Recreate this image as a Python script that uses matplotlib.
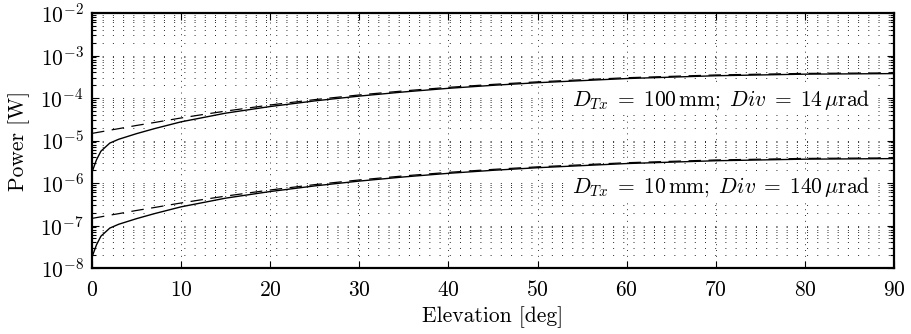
import matplotlib
matplotlib.use("Agg")
import matplotlib.pyplot as plt
from matplotlib.ticker import LogLocator, NullFormatter

plt.rcParams['font.family'] = ['cmr10', 'DejaVu Serif']
plt.rcParams['mathtext.fontset'] = 'cm'
plt.rcParams['axes.formatter.use_mathtext'] = True

# Elevation angles [deg]
elev_solid = [0, 0.5, 1, 2, 3, 5, 7, 10, 15, 20, 25, 30, 35, 40, 45, 50, 60, 70, 80, 90]
elev_dashed = [0, 1, 2, 3, 5, 7, 10, 12, 15, 20, 25, 30, 35, 40, 45, 50, 60, 70, 80, 90]

# D_Tx = 100 mm; Div = 14 urad
p100_solid = [1.8e-6, 3.5e-6, 5.6e-6, 8.7e-6, 1.07e-5, 1.45e-5, 1.9e-5, 2.75e-5, 4.4e-5,
              6.3e-5, 8.55e-5, 1.11e-4, 1.39e-4, 1.69e-4, 1.99e-4, 2.29e-4, 2.87e-4,
              3.34e-4, 3.64e-4, 3.75e-4]
p100_dashed = [1.47e-5, 1.6e-5, 1.75e-5, 1.9e-5, 2.26e-5, 2.65e-5, 3.39e-5, 3.95e-5, 4.92e-5,
               6.85e-5, 9.16e-5, 1.18e-4, 1.47e-4, 1.78e-4, 2.09e-4, 2.40e-4, 3.0e-4,
               3.48e-4, 3.79e-4, 3.9e-4]

# D_Tx = 10 mm; Div = 140 urad
p10_solid = [1.8e-8, 3.5e-8, 5.6e-8, 8.7e-8, 1.07e-7, 1.45e-7, 1.9e-7, 2.75e-7, 4.4e-7,
             6.3e-7, 8.55e-7, 1.11e-6, 1.39e-6, 1.69e-6, 1.99e-6, 2.29e-6, 2.87e-6,
             3.34e-6, 3.64e-6, 3.75e-6]
p10_dashed = [1.47e-7, 1.6e-7, 1.75e-7, 1.9e-7, 2.26e-7, 2.65e-7, 3.39e-7, 3.95e-7, 4.92e-7,
              6.85e-7, 9.16e-7, 1.18e-6, 1.47e-6, 1.78e-6, 2.09e-6, 2.40e-6, 3.0e-6,
              3.48e-6, 3.79e-6, 3.9e-6]

label_100 = r'$D_{Tx}\;=\;100\,\mathrm{mm};\; Div\;=\;14\,\mu\mathrm{rad}$'
label_10 = r'$D_{Tx}\;=\;10\,\mathrm{mm};\; Div\;=\;140\,\mu\mathrm{rad}$'
x_ticks = [0, 10, 20, 30, 40, 50, 60, 70, 80, 90]

fig = plt.figure(figsize=(9.12, 3.34), dpi=100)
ax = fig.add_axes([92/912, 1-268/334, (894-92)/912, (268-13)/334])

ax.set_yscale('log')
ax.set_xlim(0, 90)
ax.set_ylim(1e-8, 1e-2)
ax.set_xticks(x_ticks)
ax.yaxis.set_major_locator(LogLocator(base=10, numticks=20))
ax.yaxis.set_minor_locator(LogLocator(base=10, subs=range(2, 10), numticks=100))
ax.yaxis.set_minor_formatter(NullFormatter())

# grid
ax.grid(True, which='major', axis='x', color='0.2', linewidth=0.7, linestyle=(0, (1, 5)))
ax.grid(True, which='both', axis='y', color='0.15', linewidth=0.7, linestyle=(0, (1, 9.5)))

for s in ax.spines.values():
    s.set_linewidth(1.6)
ax.tick_params(which='both', direction='in', top=True, right=True, width=0.8)
ax.tick_params(which='major', length=5, labelsize=15.5, pad=6)
ax.tick_params(axis='x', which='major', pad=9)
ax.tick_params(which='minor', length=3)
ax.tick_params(axis='x', which='minor', top=False, bottom=False)

ax.plot(elev_dashed, p100_dashed, color='black', linewidth=0.9, linestyle=(0, (10, 6)))
ax.plot(elev_solid, p100_solid, color='black', linewidth=1.0)
ax.plot(elev_dashed, p10_dashed, color='black', linewidth=0.9, linestyle=(0, (10, 6)))
ax.plot(elev_solid, p10_solid, color='black', linewidth=1.0)

bbox = dict(facecolor='white', edgecolor='none', pad=2)
ax.text(53.9, 9e-5, label_100, fontsize=15.5, ha='left', va='center', bbox=bbox)
ax.text(53.9, 8.1e-7, label_10, fontsize=15.5, ha='left', va='center', bbox=bbox)

ax.set_xlabel('Elevation [deg]', fontsize=15.5, labelpad=4)
ax.set_ylabel('Power [W]', fontsize=15.5, labelpad=7)

fig.savefig('out.png', dpi=100)
